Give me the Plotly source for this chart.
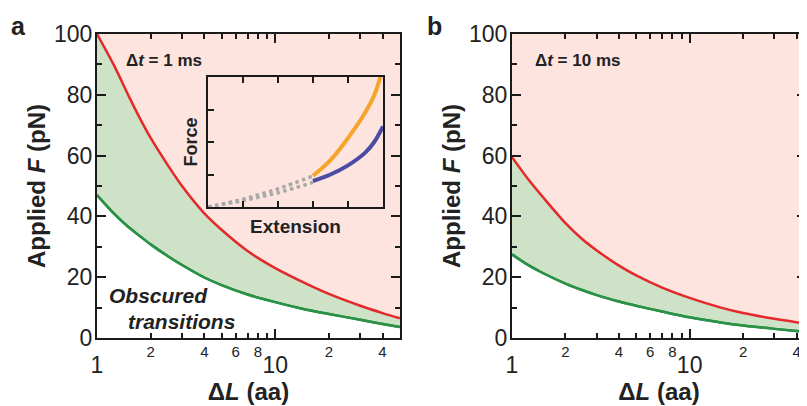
import plotly.graph_objects as go

# ---------------- data ----------------
# Panel a (Δt = 1 ms)
dL_a = [1, 1.25, 1.5, 1.75, 2, 2.5, 3, 4, 5, 7, 10, 15, 20, 30, 40, 50]
F_a_red = [100, 89.5, 79.8, 72, 65.8, 56.8, 50, 41, 35.6, 28.6, 23, 17.8, 14.5, 10.6, 8.2, 6.5]
F_a_green = [47, 40.8, 36.5, 33.4, 30.8, 26.9, 24, 19.9, 17.4, 14.3, 11.8, 9.3, 7.9, 6.0, 4.6, 3.6]

# Panel b (Δt = 10 ms)
dL_b = [1, 1.25, 1.5, 2, 2.5, 3, 4, 5, 7, 10, 15, 20, 30, 45.2]
F_b_red = [59.5, 51.8, 46.2, 37.8, 32.4, 28.8, 23.8, 20.6, 16.6, 13.2, 10.0, 8.2, 6.3, 4.7]
F_b_green = [27.5, 23.8, 21.3, 17.9, 15.7, 14.1, 12.0, 10.6, 8.7, 6.8, 5.1, 4.1, 3.0, 2.0]

# Inset (Force vs Extension, arbitrary units)
ext_gray = [0, 0.2, 0.4, 0.6]
force_gray1 = [0, 0.06, 0.14, 0.24]
force_gray2 = [0, 0.05, 0.11, 0.19]
ext_orange = [0.6, 0.7, 0.8, 0.9, 0.95, 0.985]
force_orange = [0.24, 0.36, 0.53, 0.73, 0.86, 1.0]
ext_blue = [0.6, 0.7, 0.8, 0.9, 0.95, 1.0]
force_blue = [0.20, 0.25, 0.32, 0.42, 0.50, 0.62]

x_major = [1, 10]
x_minor = [2, 3, 4, 5, 6, 7, 8, 9, 20, 30, 40, 50]
x_minor_labels = [2, 4, 6, 8, 20, 40]
x_minor_text = ["2", "4", "6", "8", "2", "4"]
y_major = [0, 20, 40, 60, 80, 100]
y_minor = [10, 30, 50, 70, 90]

# ---------------- style ----------------
PINK = "#fde4df"
GFILL = "#cde2c6"
RED = "#e5292a"
GREEN = "#2a9147"
AX = "#1a1a1a"
TXT = "#222222"
FONT = "Liberation Sans"
OFF = 8                      # page body margin
W, H = 807 - OFF, 406 - OFF

def px(x):
    return (x - OFF) / W

def py(y):
    return 1 - (y - OFF) / H

fig = go.Figure()

def panel(x, fr, fg, xa, ya):
    fig.add_trace(go.Scatter(x=x, y=fg, xaxis=xa, yaxis=ya, mode="lines",
                             line=dict(color=GREEN, width=2.5, shape="spline", smoothing=0.8),
                             fill="tozeroy", fillcolor="white", hoverinfo="skip"))
    fig.add_trace(go.Scatter(x=x, y=fr, xaxis=xa, yaxis=ya, mode="lines",
                             line=dict(color=RED, width=2.5, shape="spline", smoothing=0.8),
                             fill="tonexty", fillcolor=GFILL, hoverinfo="skip"))
    fig.add_trace(go.Scatter(x=x, y=fg, xaxis=xa, yaxis=ya, mode="lines",
                             line=dict(color=GREEN, width=2.5, shape="spline", smoothing=0.8),
                             hoverinfo="skip"))

panel(dL_a, F_a_red, F_a_green, "x", "y")
panel(dL_b, F_b_red, F_b_green, "x2", "y2")

# inset
for fe in (force_gray1, force_gray2):
    fig.add_trace(go.Scatter(x=ext_gray, y=fe, xaxis="x3", yaxis="y3", mode="lines",
                             line=dict(color="#a8a8a8", width=3.5, dash="dot", shape="spline"),
                             hoverinfo="skip"))
fig.add_trace(go.Scatter(x=ext_orange, y=force_orange, xaxis="x3", yaxis="y3", mode="lines",
                         line=dict(color="#f5a52a", width=4, shape="spline"), hoverinfo="skip"))
fig.add_trace(go.Scatter(x=ext_blue, y=force_blue, xaxis="x3", yaxis="y3", mode="lines",
                         line=dict(color="#4b4ba3", width=4, shape="spline"), hoverinfo="skip"))

# dummy traces for overlay label axes
fig.add_trace(go.Scatter(x=[1], y=[0], xaxis="x4", yaxis="y", mode="markers",
                         marker=dict(opacity=0), hoverinfo="skip"))
fig.add_trace(go.Scatter(x=[1], y=[0], xaxis="x5", yaxis="y2", mode="markers",
                         marker=dict(opacity=0), hoverinfo="skip"))

ydom = [py(338), py(34)]
xdom_a = [px(97), px(400)]
xdom_b = [px(512), min(1.0, px(806))]

def xmain(dom, rng, anchor):
    return dict(type="log", range=rng, domain=dom, anchor=anchor, automargin=False,
                showgrid=False, zeroline=False, showline=True, linecolor=AX, linewidth=2,
                mirror="ticks", ticks="inside", ticklen=9, tickwidth=2, tickcolor=AX,
                tickvals=x_major, ticktext=[str(v) for v in x_major],
                tickfont=dict(family=FONT, size=23, color=TXT),
                ticklabelstandoff=5,
                minor=dict(tickvals=x_minor, ticks="inside", ticklen=5, tickwidth=2, tickcolor=AX),
                title=dict(text="<b>Δ<i>L</i> (aa)</b>", font=dict(family=FONT, size=24, color=TXT),
                           standoff=1))

def xlab(dom, rng, over):
    return dict(type="log", range=rng, domain=dom, overlaying=over, automargin=False,
                anchor="y" if over == "x" else "y2",
                side="bottom", showgrid=False, zeroline=False, showline=False, ticks="",
                tickvals=x_minor_labels, ticktext=x_minor_text,
                tickfont=dict(family=FONT, size=15, color=TXT), ticklabelstandoff=3)

def ymain(anchor):
    return dict(range=[0, 100], domain=ydom, anchor=anchor, automargin=False,
                showgrid=False, zeroline=False, showline=True, linecolor=AX, linewidth=2,
                mirror="ticks", ticks="inside", ticklen=9, tickwidth=2, tickcolor=AX,
                tickvals=y_major, tickfont=dict(family=FONT, size=23, color=TXT),
                ticklabelstandoff=-2,
                minor=dict(tickvals=y_minor, ticks="inside", ticklen=5, tickwidth=2, tickcolor=AX),
                title=dict(text="<b>Applied <i>F</i> (pN)</b>", font=dict(family=FONT, size=24, color=TXT),
                           standoff=2))

rng_a = [0, 1.70]
rng_b = [0, 1.655]

fig.update_layout(
    width=W, height=H, margin=dict(l=0, r=0, t=0, b=0, autoexpand=False),
    paper_bgcolor="white", plot_bgcolor=PINK, showlegend=False,
    xaxis=xmain(xdom_a, rng_a, "y"),
    yaxis=ymain("x"),
    xaxis2=xmain(xdom_b, rng_b, "y2"),
    yaxis2=ymain("x2"),
    xaxis4=xlab(xdom_a, rng_a, "x"),
    xaxis5=xlab(xdom_b, rng_b, "x2"),
    xaxis3=dict(range=[0, 1], domain=[px(208), px(383)], anchor="y3", automargin=False,
                showgrid=False, zeroline=False, showline=True, linecolor=AX, linewidth=2,
                mirror="ticks", ticks="inside", ticklen=6, tickwidth=2, tickcolor=AX,
                tickvals=[0.2, 0.4, 0.6, 0.8], showticklabels=False,
                title=dict(text="<b>Extension</b>", font=dict(family=FONT, size=19, color=TXT),
                           standoff=12)),
    yaxis3=dict(range=[0, 1], domain=[py(207), py(77)], anchor="x3", automargin=False,
                showgrid=False, zeroline=False, showline=True, linecolor=AX, linewidth=2,
                mirror=True, ticks="inside", ticklen=6, tickwidth=2, tickcolor=AX,
                tickvals=[0.25, 0.5, 0.75], showticklabels=False,
                title=dict(text="<b>Force</b>", font=dict(family=FONT, size=18, color=TXT),
                           standoff=4)),
)

def ann(text, x, y, size, xanchor="center"):
    fig.add_annotation(text=text, x=px(x), y=py(y), xref="paper", yref="paper",
                       showarrow=False, xanchor=xanchor, yanchor="middle",
                       font=dict(family=FONT, size=size, color=TXT))

ann("<b>a</b>", 18, 26, 25)
ann("<b>b</b>", 434, 26, 25)
ann("<b>Δ<i>t</i> = 1 ms</b>", 164, 61, 17)
ann("<b>Δ<i>t</i> = 10 ms</b>", 577, 61, 17)
ann("<b><i>Obscured</i></b>", 158, 295, 21)
ann("<b><i>transitions</i></b>", 181, 321, 21)

fig.write_html("out.html")
